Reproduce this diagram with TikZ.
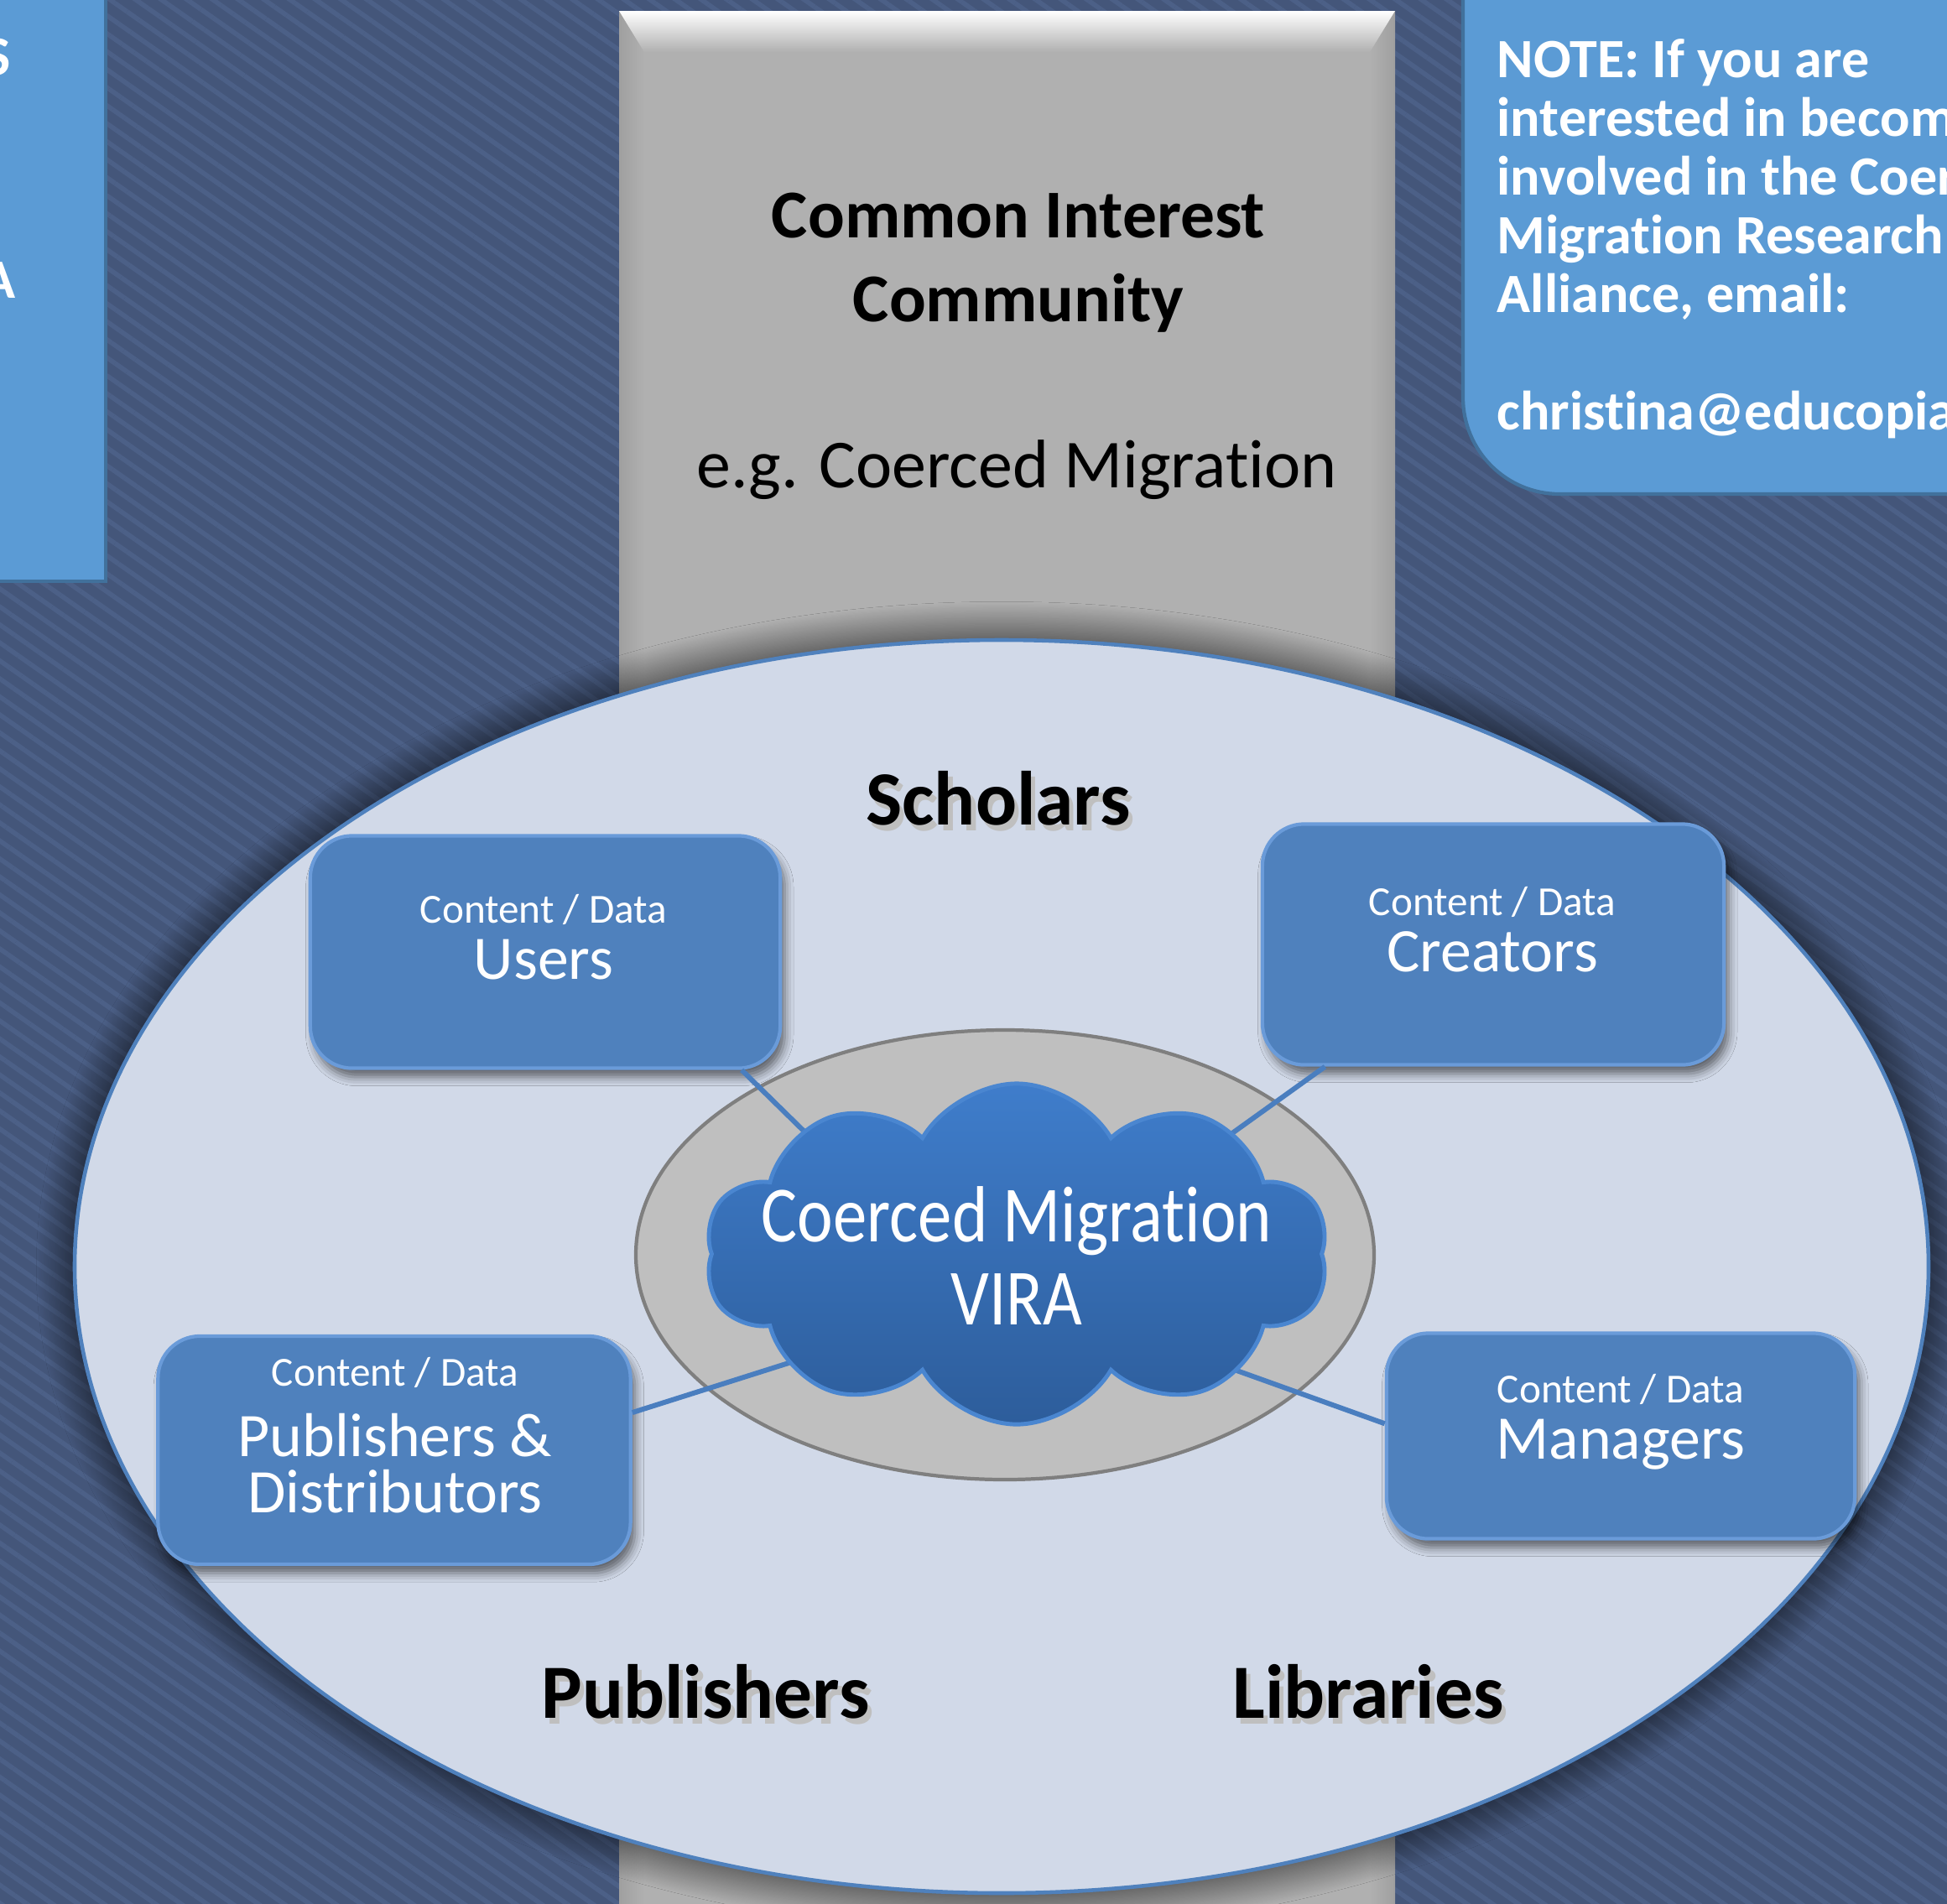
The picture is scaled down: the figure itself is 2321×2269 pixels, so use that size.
\documentclass[tikz,border=0pt]{standalone}
\usepackage{fontspec}
\setmainfont{Carlito}[Ligatures=NoCommon]
\usetikzlibrary{shapes.symbols,shadows,shadows.blur,patterns.meta,calc}

\definecolor{slate}{HTML}{44567A}
\definecolor{slatelight}{HTML}{4C6087}
\definecolor{noteblue}{HTML}{5B9BD5}
\definecolor{noteedge}{HTML}{41719C}
\definecolor{colgray}{HTML}{B0B0B0}
\definecolor{oval}{HTML}{D1D9E8}
\definecolor{ovaledge}{HTML}{4F81BD}
\definecolor{hubgray}{HTML}{BFBFBF}
\definecolor{hubedge}{HTML}{7F7F7F}
\definecolor{boxblue}{HTML}{4F81BD}
\definecolor{boxrim}{HTML}{6A9BD9}
\definecolor{cloudtop}{HTML}{3F7DCB}
\definecolor{cloudbot}{HTML}{2D5D9B}
\definecolor{cloudedge}{HTML}{4A86D0}
\definecolor{linkblue}{HTML}{4A7EBF}

\tikzset{
  databox/.style={draw=boxrim, line width=1.2pt, fill=boxblue, rounded corners=0.5cm,
    blur shadow={shadow xshift=1.5pt, shadow yshift=-3pt, shadow blur radius=3pt, shadow opacity=55}},
  boxlbl/.style={text=white, align=center, inner sep=0pt, font=\fontsize{21}{19}\selectfont},
  sector/.style={font=\fontsize{26}{30}\selectfont\bfseries, inner sep=0pt},
  notetext/.style={text=white, inner sep=0pt, font=\fontsize{18.8}{19.9}\selectfont\bfseries},
  link/.style={draw=linkblue, line width=1.7pt},
}
\newcommand{\softshadow}[1]{\makebox[0pt][l]{\hspace{1.5pt}\raisebox{-2pt}{\color{black!25}#1}}#1}
\newcommand{\cd}{{\fontsize{14}{16}\selectfont Content / Data}}
\newcommand{\narrow}[1]{\scalebox{0.85}[1]{#1}}

\begin{document}
\begin{tikzpicture}[x=0.01cm, y=-0.01cm]
\useasboundingbox (0,0) rectangle (2321,2269);
% backdrop
\fill[slate] (-40,-40) rectangle (2360,2310);
\fill[pattern={Lines[angle=-35,distance=5pt,line width=1.6pt]}, pattern color=slatelight] (-40,-40) rectangle (2360,2310);

% cut-off panel at the left
\draw[fill=noteblue, draw=noteedge, line width=1.2pt] (-60,-60) rectangle (126,693);
\node[notetext, anchor=base east] (sideS) at (13,89) {S};
\node[notetext, anchor=base east] (sideA) at (19,355) {A};

% gray column
\fill[colgray] (738,13) rectangle (1663,2320);
\shade[left color=gray!75, right color=colgray] (738,13) rectangle (768,2320);
\shade[left color=colgray, right color=gray!75] (1633,13) rectangle (1663,2320);
\shade[top color=white, bottom color=colgray] (738,13) -- (1663,13) -- (1633,62) -- (768,62) -- cycle;
\node[font=\fontsize{23.2}{28.5}\selectfont\bfseries, align=center] (cic) at (1214,313) {Common Interest\\Community};
\node[font=\fontsize{23.3}{28}\selectfont] (eg) at (1212,560) {e.g. Coerced Migration};

% note box
\draw[fill=noteblue, draw=noteedge, line width=1.2pt, rounded corners=1.15cm] (1744,-200) rectangle (2500,589);
\node[notetext, anchor=north west, align=left] (note) at (1784,46)
  {NOTE: If you are\\interested in becoming\\involved in the Coerced\\Migration Research\\Alliance, email:\\[19.9pt]christina@educopia.org};

% community oval
\draw[fill=oval, draw=ovaledge, line width=1.3pt,
  blur shadow={shadow xshift=0pt, shadow yshift=0pt, shadow blur radius=13pt, shadow blur steps=40, shadow opacity=85}]
  (1194,1510) ellipse [x radius=1105, y radius=747];
\draw[fill=hubgray, draw=hubedge, line width=1.2pt] (1198,1496) ellipse [x radius=440, y radius=268];

\node[sector] (scholars) at (1190,955) {\softshadow{Scholars}};
\node[sector] (publishers) at (841,2020) {\softshadow{Publishers}};
\node[sector] (libraries) at (1631,2020) {\softshadow{Libraries}};

% the four groups
\node[databox, minimum width=5.6cm, minimum height=2.77cm] (users) at (650,1135) {};
\node[boxlbl] (usersT) at (648,1117) {\cd\\Users};
\node[databox, minimum width=5.5cm, minimum height=2.87cm] (creators) at (1780,1126) {};
\node[boxlbl] (creatorsT) at (1779,1108) {\cd\\Creators};
\node[databox, minimum width=5.63cm, minimum height=2.72cm] (pubs) at (470,1729) {};
\node[boxlbl] (pubsT) at (471,1711) {\cd\\[5pt]Publishers \&\\Distributors};
\node[databox, minimum width=5.58cm, minimum height=2.45cm] (mgrs) at (1932,1712) {};
\node[boxlbl] (mgrsT) at (1932,1695) {\cd\\Managers};

% connectors into the cloud
\coordinate (hubU) at (1023,1412);
\coordinate (hubC) at (1409,1394);
\coordinate (hubP) at (1038,1594);
\coordinate (hubM) at (1360,1593);
\draw[link] (users.-31) -- (hubU);
\draw[link] (creators.216) -- (hubC);
\draw[link] (pubs.9) -- (hubP);
\draw[link] (mgrs.177) -- (hubM);

% VIRA cloud
\node[cloud, cloud puffs=10, cloud puff arc=120, minimum width=7.43cm, minimum height=4.06cm,
  top color=cloudtop, bottom color=cloudbot, draw=cloudedge, line width=1.4pt] (vira) at (1212,1495) {};
\node[text=white, align=center, font=\fontsize{27}{28}\selectfont] (viraT) at (1212,1497)
  {\narrow{Coerced Migration}\\\narrow{VIRA}};
\end{tikzpicture}
\end{document}
